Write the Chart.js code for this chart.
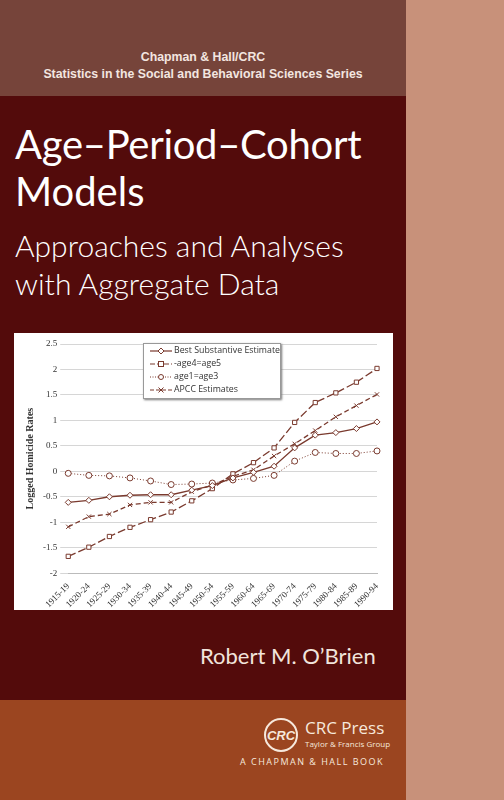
<!DOCTYPE html>
<html>
<head>
<meta charset="utf-8">
<script src="https://cdn.jsdelivr.net/npm/chart.js@4"></script>
<style>
  body { margin: 0; width: 504px; height: 800px; overflow: hidden; background: #530b0b; font-family: Lato, sans-serif; }
  .spine { position: absolute; left: 406px; top: 0; width: 98px; height: 800px; background: #c8917a; }
  .top { position: absolute; left: 0; top: 0; width: 406px; height: 96px; background: #76443a; color: #f3e6e0;
         font-family: "Liberation Sans", Arial, sans-serif; font-weight: bold; font-size: 12.3px; text-align: center; }
  .top div { position: absolute; width: 100%; }
  .title { position: absolute; left: 15px; color: #fff; font-family: Lato, sans-serif; font-weight: 300; white-space: nowrap; }
  .box { position: absolute; left: 14px; top: 333px; width: 379px; height: 277px; background: #fff; }
  .legend { position: absolute; left: 143px; top: 343px; width: 136px; height: 54px; background: #fff;
            border: 1px solid #999; box-shadow: 1px 1px 2px #777; font-family: "Open Sans", sans-serif; font-size: 8.8px; color: #333; }
  .legend div { height: 13px; line-height: 13px; display: flex; align-items: center; }
  .legend svg { width: 22px; height: 10px; margin: 0 2px 0 6px; }
  .bottom { position: absolute; left: 0; top: 700px; width: 406px; height: 100px; background: #9b4520; color: #f6e8dc; }
</style>
</head>
<body>
<div class="spine"></div>
<div class="top">
  <div style="top:50px">Chapman &amp; Hall/CRC</div>
  <div style="top:67px">Statistics in the Social and Behavioral Sciences Series</div>
</div>
<div class="title" style="top:120px;font-size:40px;font-weight:400;letter-spacing:-0.3px">Age–Period–Cohort</div>
<div class="title" style="top:167px;font-size:40px;font-weight:400">Models</div>
<div class="title" style="top:227px;font-size:30px">Approaches and Analyses</div>
<div class="title" style="top:265px;font-size:30px">with Aggregate Data</div>

<div class="box"><canvas id="c" width="379" height="277"></canvas></div>
<div class="legend">
  <div><svg viewBox="0 0 22 10"><line x1="0" y1="5" x2="22" y2="5" stroke="#7a3a2e" stroke-width="1.2"/><path d="M11 2 L14 5 L11 8 L8 5 Z" fill="#fff" stroke="#7a3a2e"/></svg>Best Substantive Estimate</div>
  <div><svg viewBox="0 0 22 10"><line x1="0" y1="5" x2="22" y2="5" stroke="#7a3a2e" stroke-width="1.2" stroke-dasharray="5,2"/><rect x="8.5" y="2.5" width="5" height="5" fill="#fff" stroke="#7a3a2e"/></svg>-age4=age5</div>
  <div><svg viewBox="0 0 22 10"><line x1="0" y1="5" x2="22" y2="5" stroke="#7a3a2e" stroke-width="1" stroke-dasharray="1,1.5"/><circle cx="11" cy="5" r="2.5" fill="#fff" stroke="#7a3a2e"/></svg>age1=age3</div>
  <div><svg viewBox="0 0 22 10"><line x1="0" y1="5" x2="22" y2="5" stroke="#7a3a2e" stroke-width="1.2" stroke-dasharray="4,2"/><path d="M8.5 2.5 L13.5 7.5 M13.5 2.5 L8.5 7.5" stroke="#7a3a2e"/></svg>APCC Estimates</div>
</div>

<div class="title" style="left:200px;top:642px;font-size:22px;font-weight:400;color:#f1e4dc">Robert M. O’Brien</div>

<div class="bottom">
  <svg style="position:absolute;left:263px;top:17px" width="36" height="36" viewBox="0 0 36 36">
    <circle cx="18" cy="18" r="16" fill="none" stroke="#f6e8dc" stroke-width="2"/>
    <text x="18" y="23" text-anchor="middle" font-family="Liberation Sans" font-weight="bold" font-style="italic" font-size="13" fill="#f6e8dc">CRC</text>
  </svg>
  <div style="position:absolute;left:305px;top:16px;font-size:17px;font-family:'Open Sans'">CRC Press</div>
  <div style="position:absolute;left:305px;top:38px;font-size:8px;font-family:'Open Sans'">Taylor &amp; Francis Group</div>
  <div style="position:absolute;left:240px;top:55px;font-size:9px;letter-spacing:1.5px;font-family:'Open Sans'">A CHAPMAN &amp; HALL BOOK</div>
</div>

<script>
const periods = ['1915-19','1920-24','1925-29','1930-34','1935-39','1940-44','1945-49','1950-54','1955-59','1960-64','1965-69','1970-74','1975-79','1980-84','1985-89','1990-94'];
const bestEstimate = [-0.61,-0.57,-0.50,-0.47,-0.46,-0.46,-0.37,-0.28,-0.13,-0.02,0.10,0.46,0.71,0.76,0.84,0.97];
const age4age5 = [-1.67,-1.49,-1.28,-1.10,-0.95,-0.80,-0.58,-0.34,-0.05,0.17,0.46,0.96,1.35,1.54,1.75,2.02];
const age1age3 = [-0.04,-0.08,-0.09,-0.13,-0.19,-0.26,-0.25,-0.23,-0.17,-0.14,-0.08,0.20,0.37,0.35,0.35,0.40];
const apcc = [-1.09,-0.89,-0.84,-0.66,-0.61,-0.61,-0.40,-0.27,-0.10,0.03,0.30,0.54,0.80,1.07,1.29,1.51];
const yTicks = [2.5,2,1.5,1,0.5,0,-0.5,-1,-1.5,-2];

const col = '#7a3a2e';
function series(label, data, style, dash, width) {
  return { label, data, borderColor: col, backgroundColor: style === 'crossRot' ? col : '#fff',
    borderWidth: width, borderDash: dash, pointStyle: style, pointRadius: 3,
    pointBorderWidth: 1, pointBorderColor: col, tension: 0 };
}

new Chart(document.getElementById('c'), {
  type: 'line',
  data: {
    labels: periods,
    datasets: [
      series('Best Substantive Estimate', bestEstimate, 'rectRot', [], 1.3),
      series('-age4=age5', age4age5, 'rect', [8, 3], 1.3),
      series('age1=age3', age1age3, 'circle', [1, 2], 1),
      series('APCC Estimates', apcc, 'crossRot', [5, 3], 1.3)
    ]
  },
  options: {
    responsive: false, animation: false,
    layout: { padding: { top: 11, right: 16, left: 6, bottom: 0 } },
    plugins: { legend: { display: false }, tooltip: { enabled: false } },
    scales: {
      x: { grid: { display: false }, border: { color: '#bbb' },
        ticks: { color: '#333', autoSkip: false, padding: 0, maxRotation: 45, minRotation: 45, font: { family: 'Liberation Serif', size: 9 } } },
      y: { min: -2, max: 2.5, afterBuildTicks: ax => { ax.ticks = yTicks.map(v => ({ value: v })); },
        grid: { color: '#d6d6d6' }, border: { display: false },
        title: { display: true, text: 'Logged Homicide Rates', color: '#333', font: { family: 'Liberation Serif', size: 10, weight: 'bold' } },
        ticks: { color: '#333', font: { family: 'Liberation Serif', size: 9 }, callback: v => String(v) } }
    }
  }
});
</script>
</body>
</html>
